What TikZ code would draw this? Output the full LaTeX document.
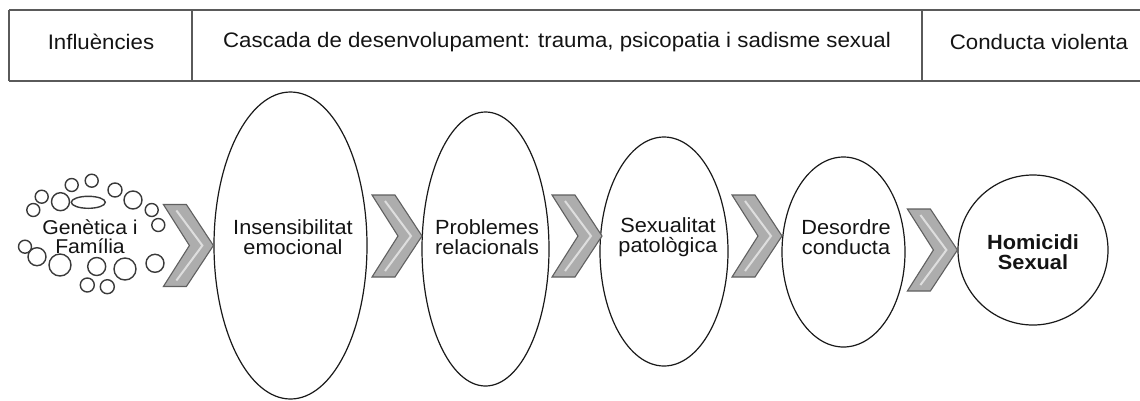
\documentclass[tikz,border=0pt]{standalone}
\usepackage{fontspec}
\setmainfont{Liberation Sans}[FakeStretch=1.06]
\usetikzlibrary{shapes.geometric}
\definecolor{txt}{HTML}{141414}
\definecolor{hdrline}{HTML}{5A5A5A}
\definecolor{chevfill}{HTML}{ADADAD}
\definecolor{chevdraw}{HTML}{606060}
\definecolor{chevlight}{HTML}{DEDEDE}
\definecolor{bub}{HTML}{3A3A3A}
\tikzset{
  hdr/.style={draw=hdrline, line width=1.5pt},
  hdrtext/.style={font=\fontsize{21}{23}\selectfont, text=txt, inner sep=0pt},
  oval/.style={ellipse, draw=black!90, line width=1.2pt, inner sep=0pt, fill=white},
  ovaltext/.style={font=\fontsize{20.5}{20.5}\selectfont, text=txt, align=center, inner sep=0pt},
  bubble/.style={draw=bub, line width=1.4pt},
  chevshape/.style={draw=chevdraw, fill=chevfill, line width=1.1pt, line join=miter},
  chevhl/.style={draw=chevlight, line width=2pt},
  chev/.pic={
    \draw[chevshape] (-50,-41) -- (-27,-41) -- (0,0) -- (-27,41) -- (-50,41) -- (-24,0) -- cycle;
    \draw[chevhl] (-37,-35) -- (-11,0) -- (-37,35);
  }
}
\begin{document}
\begin{tikzpicture}[x=1pt,y=-1pt]
\useasboundingbox (0,0) rectangle (1140,400);
% header band
\draw[hdr] (9,10) -- (1140,10);
\draw[hdr] (9,81) -- (1140,81);
\draw[hdr] (9,10) -- (9,81);
\draw[hdr] (192,10) -- (192,81);
\draw[hdr] (922,10) -- (922,81);
\node[hdrtext] (h1) at (101,42) {Influències};
\node[hdrtext] (h2) at (557,42) {Cascada de desenvolupament: trauma, psicopatia i sadisme sexual};
\node[hdrtext] (h3) at (1039,42) {Conducta violenta};

% bubbles around Genètica i Família
\draw[bubble] (71.7,185) circle (6.5);
\draw[bubble] (91.7,180.7) circle (6.5);
\draw[bubble] (41.7,196.7) circle (6.5);
\draw[bubble] (60.5,201.7) circle (9);
\draw[bubble] (88.3,202.3) ellipse (17 and 6);
\draw[bubble] (115,190) circle (7);
\draw[bubble] (133,200) circle (9);
\draw[bubble] (33.3,210) circle (6.5);
\draw[bubble] (151.7,210) circle (6.5);
\draw[bubble] (158.3,225) circle (6.5);
\draw[bubble] (25,246.7) circle (6.5);
\draw[bubble] (155,263.3) circle (9);
\draw[bubble] (37,256.7) circle (9);
\draw[bubble] (60,265) circle (11);
\draw[bubble] (96.7,266.5) circle (9);
\draw[bubble] (125,269) circle (11);
\draw[bubble] (87.3,285) circle (7);
\draw[bubble] (107.3,286.7) circle (7);
\node[ovaltext, font=\fontsize{20}{19}\selectfont] (t0) at (90,237) {Genètica i\\Família};

% ovals
\node[oval, minimum width=153pt, minimum height=307pt] (e1) at (290.5,245.5) {};
\node[oval, minimum width=127pt, minimum height=274pt] (e2) at (485.5,249) {};
\node[oval, minimum width=128pt, minimum height=229pt] (e3) at (664,251.5) {};
\node[oval, minimum width=123pt, minimum height=190pt] (e4) at (843.5,252) {};
\node[oval, circle, minimum size=150pt] (e5) at (1033,250) {};

\node[ovaltext] (t1) at (293,237) {Insensibilitat\\emocional};
\node[ovaltext] (t2) at (487,237) {Problemes\\relacionals};
\node[ovaltext] (t3) at (668,237) {Sexualitat\\patològica};
\node[ovaltext] (t4) at (846,237) {Desordre\\conducta};
\node[ovaltext, font=\fontsize{20.5}{20.5}\selectfont\bfseries] (t5) at (1033,252) {Homicidi\\Sexual};

% chevrons
\pic at (e1.west) {chev};
\pic at (422,236) {chev};
\pic at (602,236) {chev};
\pic at (782,236) {chev};
\pic at (e5.west) {chev};
\end{tikzpicture}
\end{document}
